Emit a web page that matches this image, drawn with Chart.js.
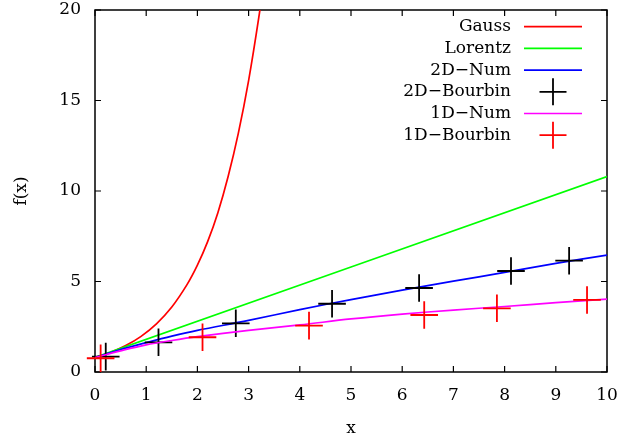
<!DOCTYPE html>
<html>
<head>
<meta charset="utf-8">
<script src="https://cdn.jsdelivr.net/npm/chart.js@4"></script>
<style>
html,body{margin:0;padding:0;background:#fff;}
#wrap{width:624px;height:440px;}
</style>
</head>
<body>
<div id="wrap"><canvas id="c" width="624" height="440"></canvas></div>
<script>
// ---- data ----
const xTickValues = [0,1,2,3,4,5,6,7,8,9,10];
const yTickValues = [0,5,10,15,20];

const gaussX = [0, 0.3, 0.6, 0.9, 1.2, 1.5, 1.8, 2.0, 2.2, 2.4, 2.6, 2.8, 3.0, 3.2, 3.3];
const gaussY = [0.8, 1.08, 1.46, 1.97, 2.66, 3.59, 4.84, 5.9, 7.2, 8.8, 10.8, 13.2, 16.1, 19.6, 21.7];

const lorentzX = [0, 10];
const lorentzY = [0.8, 10.8];

const num2dX = [0, 0.5, 1, 1.5, 2, 3, 4, 5, 6, 7, 8, 9, 10];
const num2dY = [0.8, 1.24, 1.62, 1.98, 2.3, 2.85, 3.45, 4.0, 4.52, 5.02, 5.5, 6.0, 6.46];

const bour2dX = [0.21, 1.24, 2.75, 4.63, 6.33, 8.125, 9.26];
const bour2dY = [0.85, 1.64, 2.69, 3.77, 4.64, 5.58, 6.15];

const num1dX = [0, 0.5, 1, 1.5, 2, 3, 4, 5, 6, 7, 8, 9, 10];
const num1dY = [0.8, 1.17, 1.5, 1.74, 1.95, 2.3, 2.6, 2.93, 3.2, 3.42, 3.62, 3.83, 4.03];

const bour1dX = [0.11, 2.10, 4.18, 6.43, 7.85, 9.61];
const bour1dY = [0.76, 1.92, 2.56, 3.15, 3.52, 3.98];

const labels = ['Gauss', 'Lorentz', '2D\u2212Num', '2D\u2212Bourbin', '1D\u2212Num', '1D\u2212Bourbin'];
// ---------------------------------------

const zip = (xs, ys) => xs.map((x, i) => ({x: x, y: ys[i]}));
const FONT = 'DejaVu Serif';

function lineSet(label, xs, ys, color, order) {
  return {type: 'line', label, data: zip(xs, ys), borderColor: color, backgroundColor: color,
    borderWidth: 1.7, pointRadius: 0, fill: false, tension: 0.35, order};
}
function crossSet(label, xs, ys, color, order) {
  return {type: 'scatter', label, data: zip(xs, ys), borderColor: color, backgroundColor: color,
    pointStyle: 'cross', pointRadius: 13.8, pointHoverRadius: 13.8, pointBorderWidth: 1.8,
    showLine: false, clip: false, order};
}

function noPad(s) {
  s.paddingTop = 0; s.paddingBottom = 0; s.paddingLeft = 0; s.paddingRight = 0;
}

const frame = {
  id: 'gpFrame',
  beforeDatasetsDraw(chart) {
    const {ctx, chartArea: a, scales: {x, y}} = chart;
    ctx.save();
    ctx.strokeStyle = '#000';
    ctx.lineWidth = 1.5;
    ctx.strokeRect(a.left, a.top, a.right - a.left, a.bottom - a.top);
    ctx.beginPath();
    x.ticks.forEach(t => {
      const p = x.getPixelForValue(t.value);
      ctx.moveTo(p, a.bottom); ctx.lineTo(p, a.bottom - 6);
      ctx.moveTo(p, a.top); ctx.lineTo(p, a.top + 6);
    });
    y.ticks.forEach(t => {
      const p = y.getPixelForValue(t.value);
      ctx.moveTo(a.left, p); ctx.lineTo(a.left + 6, p);
      ctx.moveTo(a.right, p); ctx.lineTo(a.right - 6, p);
    });
    ctx.lineWidth = 1.2;
    ctx.stroke();
    ctx.restore();
  }
};

const gpLegend = {
  id: 'gpLegend',
  afterDraw(chart) {
    const {ctx, chartArea: a} = chart;
    ctx.save();
    ctx.font = '17px "' + FONT + '"';
    ctx.textAlign = 'right';
    ctx.textBaseline = 'middle';
    const textRight = a.right - 96;
    const x0 = a.right - 83, x1 = a.right - 25, xc = (x0 + x1) / 2;
    chart.data.datasets.forEach((ds, i) => {
      const yy = a.top + 16.7 + i * 21.7;
      ctx.fillStyle = '#000';
      ctx.fillText(ds.label, textRight, yy);
      ctx.strokeStyle = ds.borderColor;
      ctx.beginPath();
      if (ds.showLine === false) {
        ctx.lineWidth = ds.pointBorderWidth;
        const r = 13.5;
        ctx.moveTo(xc - r, yy); ctx.lineTo(xc + r, yy);
        ctx.moveTo(xc, yy - r); ctx.lineTo(xc, yy + r);
      } else {
        ctx.lineWidth = ds.borderWidth;
        ctx.moveTo(x0, yy); ctx.lineTo(x1, yy);
      }
      ctx.stroke();
    });
    ctx.restore();
  }
};

new Chart(document.getElementById('c'), {
  data: {
    datasets: [
      lineSet(labels[0], gaussX, gaussY, '#ff0000', 6),
      lineSet(labels[1], lorentzX, lorentzY, '#00ff00', 5),
      lineSet(labels[2], num2dX, num2dY, '#0000ff', 4),
      crossSet(labels[3], bour2dX, bour2dY, '#000000', 3),
      lineSet(labels[4], num1dX, num1dY, '#ff00ff', 2),
      crossSet(labels[5], bour1dX, bour1dY, '#ff0000', 1)
    ]
  },
  options: {
    responsive: false,
    animation: false,
    devicePixelRatio: 1,
    layout: {autoPadding: false, padding: {left: 0, top: 10, right: 17, bottom: 0}},
    plugins: {legend: {display: false}, tooltip: {enabled: false}},
    scales: {
      x: {
        type: 'linear', min: 0, max: 10,
        afterBuildTicks: s => { s.ticks = xTickValues.map(v => ({value: v})); },
        afterFit: s => { s.height = 68; noPad(s); },
        grid: {display: false, drawTicks: false},
        border: {display: false},
        ticks: {color: '#000', padding: 13, font: {family: FONT, size: 17}, maxRotation: 0},
        title: {display: true, text: 'x', color: '#000', font: {family: FONT, size: 17}, padding: {top: 0, bottom: 1}}
      },
      y: {
        type: 'linear', min: 0, max: 20,
        afterBuildTicks: s => { s.ticks = yTickValues.map(v => ({value: v})); },
        afterFit: s => { s.width = 95; noPad(s); },
        grid: {display: false, drawTicks: false},
        border: {display: false},
        ticks: {color: '#000', padding: 14, font: {family: FONT, size: 17}},
        title: {display: true, text: 'f(x)', color: '#000', font: {family: FONT, size: 17}, padding: {top: 11.5, bottom: 0}}
      }
    }
  },
  plugins: [frame, gpLegend]
});
</script>
</body>
</html>
